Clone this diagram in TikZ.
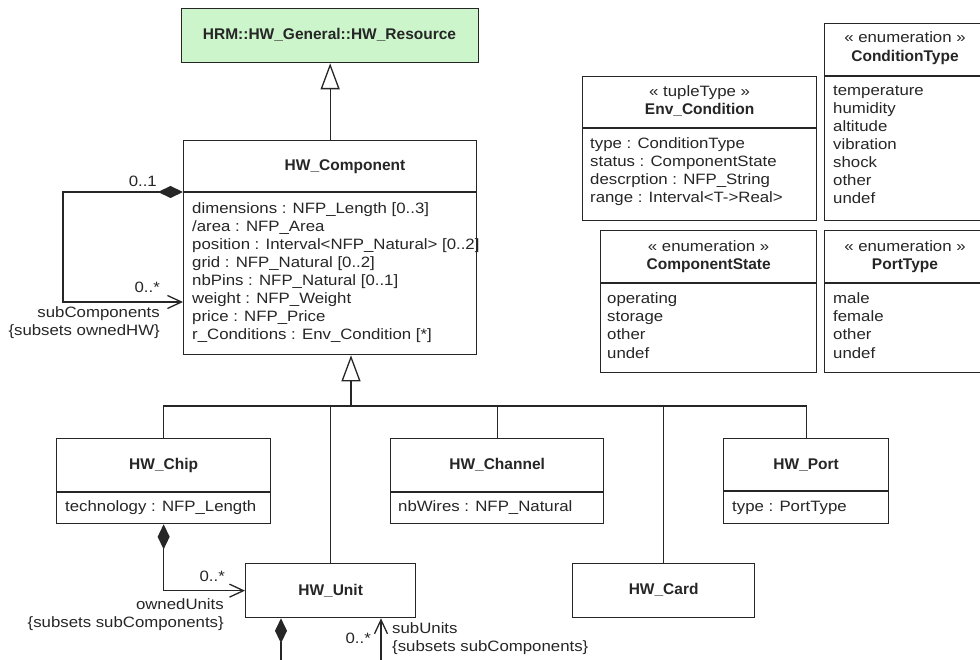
\documentclass[tikz,border=0pt]{standalone}
\usepackage{fontspec}
\setmainfont{Liberation Sans}[FakeStretch=1.12]
\newfontfamily\hdfont{Liberation Sans}
\usetikzlibrary{arrows.meta}
\definecolor{resgreen}{RGB}{204,245,204}
\definecolor{ink}{RGB}{38,38,38}
\tikzset{
  box/.style={draw=ink, line width=1.3pt, fill=white, inner sep=0pt, anchor=north west},
  divline/.style={draw=ink, line width=1.3pt},
  ttl/.style={font=\hdfont\bfseries\fontsize{15.5}{18}\selectfont, anchor=base, inner sep=0pt, text=ink},
  txt/.style={font=\fontsize{15}{18}\selectfont, anchor=base west, inner sep=0pt, text=ink},
  ster/.style={font=\fontsize{15}{18}\selectfont, anchor=base, inner sep=0pt, text=ink},
  lble/.style={font=\fontsize{15}{18}\selectfont, anchor=base east, inner sep=0pt, text=ink},
  lblw/.style={font=\fontsize{15}{18}\selectfont, anchor=base west, inner sep=0pt, text=ink},
  conn/.style={draw=ink, line width=1.3pt},
  gen/.style={conn, -{Triangle[open, length=26pt, width=19pt, fill=white]}},
  compo/.style={conn, {Diamond[length=25pt, width=12pt, fill=ink]}-},
  compnav/.style={conn, {Diamond[length=25pt, width=12pt, fill=ink]}-{Straight Barb[length=14pt, width=13pt]}},
  nav/.style={conn, -{Straight Barb[length=14pt, width=13pt]}},
}
\begin{document}
\begin{tikzpicture}[x=1pt, y=-1pt]
\useasboundingbox (0,0) rectangle (980,660);
\clip (0,0) rectangle (980,660);
\fill[white] (0,0) rectangle (980,660);

% HW_Resource
\node[box, fill=resgreen, minimum width=297pt, minimum height=54pt] (res) at (181,8) {};
\node[ttl] (resT) at (329.5,40) {HRM::HW\_General::HW\_Resource};

% HW_Component
\node[box, minimum width=293pt, minimum height=214pt] (comp) at (183,140) {};
\draw[divline] (comp.west |- 0,192) -- (comp.east |- 0,192);
\node[ttl] (compT) at (345,171) {HW\_Component};
\foreach \t [count=\i] in {dimensions : NFP\_Length [0..3], /area : NFP\_Area,
  position : Interval<NFP\_Natural> [0..2], grid : NFP\_Natural [0..2],
  nbPins : NFP\_Natural [0..1], weight : NFP\_Weight, price : NFP\_Price,
  r\_Conditions : Env\_Condition [*]}
  \node[txt] (ca\i) at (192,196+18*\i) {\t};

\draw[gen] (comp.north) -- (res.south);

% self association
\draw[compnav] (comp.west |- 0,192) -| ++(-120,110) -- (comp.west |- 0,302);
\node[lble] (m01) at (157,187) {0..1};
\node[lble] (m0s) at (160,293) {0..*};
\node[lble] (subC) at (160,318) {subComponents};
\node[lble] (subCs) at (160,335) {\{subsets ownedHW\}};

% subclasses
\node[box, minimum width=214pt, minimum height=85pt] (chip) at (56,438) {};
\draw[divline] (chip.west |- 0,492) -- (chip.east |- 0,492);
\node[ttl] (chipT) at (chip.north |- 0,469) {HW\_Chip};
\node[txt] (chipA) at (65,511) {technology : NFP\_Length};

\node[box, minimum width=213pt, minimum height=85pt] (chan) at (390,438) {};
\draw[divline] (chan.west |- 0,492) -- (chan.east |- 0,492);
\node[ttl] (chanT) at (chan.north |- 0,469) {HW\_Channel};
\node[txt] (chanA) at (398,511) {nbWires : NFP\_Natural};

\node[box, minimum width=165pt, minimum height=85pt] (port) at (723,438) {};
\draw[divline] (port.west |- 0,491) -- (port.east |- 0,491);
\node[ttl] (portT) at (port.north |- 0,469) {HW\_Port};
\node[txt] (portA) at (732,511) {type : PortType};

\node[box, minimum width=182pt, minimum height=54pt] (card) at (572,563) {};
\node[ttl] (cardT) at (card.north |- 0,594) {HW\_Card};

\node[box, minimum width=170pt, minimum height=54pt] (unit) at (245,563) {};
\node[ttl] (unitT) at (unit.north |- 0,595) {HW\_Unit};

% generalization tree
\coordinate (bar) at (351,406);
\draw[gen] (bar) -- (bar |- comp.south);
\draw[conn] (chip.north) |- (bar) -| (port.north);
\draw[conn] (unit.north) -- (unit.north |- bar);
\draw[conn] (chan.north) -- (chan.north |- bar);
\draw[conn] (card.north) -- (card.north |- bar);

% chip owns units
\draw[compnav] (chip.south) |- (unit.west);
\node[lble] (u0s) at (225,581) {0..*};
\node[lble] (oU) at (224,609) {ownedUnits};
\node[lble] (oUs) at (224,627) {\{subsets subComponents\}};

% unit bottom associations
\coordinate (ucomp) at (281,675);
\coordinate (usub) at (381,675);
\draw[compo] (unit.south -| ucomp) -- (ucomp);
\draw[nav] (usub) -- (unit.south -| usub);
\node[lble] (s0s) at (371,643) {0..*};
\node[lblw] (sU) at (392,633) {subUnits};
\node[lblw] (sUs) at (392,651) {\{subsets subComponents\}};

% Env_Condition
\node[box, minimum width=234pt, minimum height=144pt] (env) at (582,76) {};
\draw[divline] (env.west |- 0,128) -- (env.east |- 0,128);
\node[ster] (envS) at (env.north |- 0,97) {« tupleType »};
\node[ttl] (envT) at (env.north |- 0,115) {Env\_Condition};
\foreach \t [count=\i] in {type : ConditionType, status : ComponentState,
  descrption : NFP\_String, range : Interval<T->Real>}
  \node[txt] (ea\i) at (590,131+18*\i) {\t};

% ConditionType
\node[box, minimum width=162pt, minimum height=197pt] (ctype) at (824,23) {};
\draw[divline] (ctype.west |- 0,76) -- (ctype.east |- 0,76);
\node[ster] (ctS) at (905,43) {« enumeration »};
\node[ttl] (ctT) at (905,62) {ConditionType};
\foreach \t [count=\i] in {temperature, humidity, altitude, vibration, shock, other, undef}
  \node[txt] (ct\i) at (833,78+18*\i) {\t};

% ComponentState
\node[box, minimum width=216pt, minimum height=142pt] (cstate) at (600,230) {};
\draw[divline] (cstate.west |- 0,283) -- (cstate.east |- 0,283);
\node[ster] (csS) at (cstate.north |- 0,252) {« enumeration »};
\node[ttl] (csT) at (cstate.north |- 0,270) {ComponentState};
\foreach \t [count=\i] in {operating, storage, other, undef}
  \node[txt] (cs\i) at (607,286+18*\i) {\t};

% PortType
\node[box, minimum width=162pt, minimum height=142pt] (ptype) at (824,230) {};
\draw[divline] (ptype.west |- 0,283) -- (ptype.east |- 0,283);
\node[ster] (ptS) at (905,252) {« enumeration »};
\node[ttl] (ptT) at (905,270) {PortType};
\foreach \t [count=\i] in {male, female, other, undef}
  \node[txt] (pt\i) at (833,286+18*\i) {\t};
\end{tikzpicture}
\end{document}
